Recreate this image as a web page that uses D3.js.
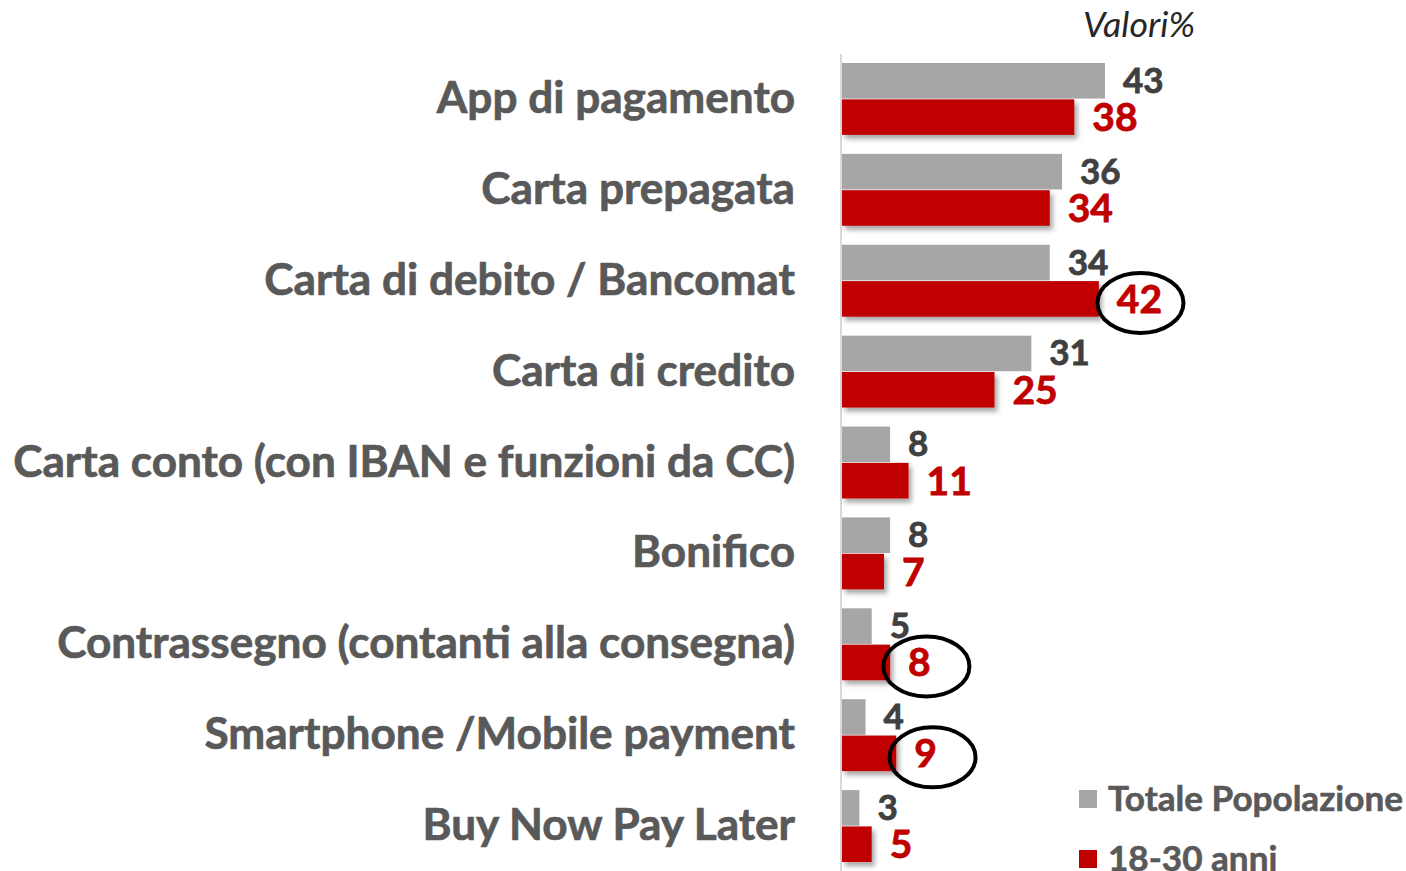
<!DOCTYPE html>
<html>
<head>
<meta charset="utf-8">
<script src="https://cdn.jsdelivr.net/npm/d3@7"></script>
<style>
  body { margin: 0; background: #fff; }
  text { font-family: Lato, "Open Sans", sans-serif; }
</style>
</head>
<body>
<div id="chart"></div>
<script>
// data
var categories = [
  "App di pagamento",
  "Carta prepagata",
  "Carta di debito / Bancomat",
  "Carta di credito",
  "Carta conto (con IBAN e funzioni da CC)",
  "Bonifico",
  "Contrassegno (contanti alla consegna)",
  "Smartphone /Mobile payment",
  "Buy Now Pay Later"
];
var totale = [43, 36, 34, 31, 8, 8, 5, 4, 3];
var giovani = [38, 34, 42, 25, 11, 7, 8, 9, 5];
var highlighted = [2, 6, 7]; // rows where the 18-30 value is circled
var seriesNames = ["Totale Popolazione", "18-30 anni"];
var colors = ["#a6a6a6", "#c00000"];

var width = 1406, height = 871;

var svg = d3.select("#chart").append("svg")
    .attr("width", width)
    .attr("height", height);

// drop shadow under the red bars
var defs = svg.append("defs");
defs.append("filter")
    .attr("id", "shadow")
    .attr("x", "-10%").attr("y", "-20%")
    .attr("width", "130%").attr("height", "160%")
  .append("feDropShadow")
    .attr("dx", 3).attr("dy", 4)
    .attr("stdDeviation", 2.5)
    .attr("flood-color", "#000")
    .attr("flood-opacity", 0.35);

// shrink or grow a text selection until its widest item has the target width
function fitWidth(sel, base, target) {
  sel.attr("font-size", base);
  var w = d3.max(sel.nodes(), n => n.getComputedTextLength());
  sel.attr("font-size", base * target / w);
}

var x0 = 841;
var x = d3.scaleLinear().domain([0, 43]).range([x0, 1105]);

var y = d3.scaleBand()
    .domain(categories)
    .range([53, 53 + 91 * categories.length])
    .paddingInner(19 / 91)
    .paddingOuter(10 / 91);

var ySub = d3.scaleBand().domain([0, 1]).range([0, y.bandwidth()]).paddingInner(0.02);

// axis line
svg.append("line")
    .attr("x1", x0).attr("x2", x0)
    .attr("y1", 54).attr("y2", height)
    .attr("stroke", "#d9d9d9")
    .attr("stroke-width", 2);

// "Valori%"
var valori = svg.append("text")
    .attr("x", 1195).attr("y", 37)
    .attr("text-anchor", "end")
    .attr("font-style", "italic")
    .attr("fill", "#262626")
    .text("Valori%");
fitWidth(valori, 30, 112);

// category labels, fitted to the width of the original
var catLabels = svg.append("g").selectAll("text")
    .data(categories)
    .join("text")
      .attr("x", 795)
      .attr("y", d => y(d) + y.bandwidth() / 2 + 14)
      .attr("text-anchor", "end")
      .attr("font-weight", 700)
      .attr("fill", "#595959")
      .attr("stroke", "#595959")
      .attr("stroke-width", 0.7)
      .text(d => d);
fitWidth(catLabels, 40, 782);

var series = [totale, giovani];

series.forEach(function(vals, s) {
  var g = svg.append("g");
  g.selectAll("rect")
    .data(vals)
    .join("rect")
      .attr("x", x0 + 1)
      .attr("y", (d, i) => y(categories[i]) + ySub(s))
      .attr("width", d => x(d) - x0 - 1)
      .attr("height", ySub.bandwidth())
      .attr("fill", colors[s])
      .attr("filter", s === 1 ? "url(#shadow)" : null);
});

// value labels
var labelsG = svg.append("g");
var redLabels = [];
series.forEach(function(vals, s) {
  var fill = s === 0 ? "#404040" : colors[1];
  var t = labelsG.selectAll("text.s" + s)
    .data(vals)
    .join("text")
      .attr("class", "s" + s)
      .attr("x", d => x(d) + 18)
      .attr("y", (d, i) => y(categories[i]) + ySub(s) + ySub.bandwidth() / 2 + (s === 0 ? 12 : 14))
      .attr("font-weight", 700)
      .attr("font-size", s === 0 ? 35 : 39)
      .attr("fill", fill)
      .attr("stroke", fill)
      .attr("stroke-width", 0.8)
      .text(d => d);
  if (s === 1) redLabels = t.nodes();
});

// ellipses around the highlighted 18-30 values
highlighted.forEach(function(i) {
  var b = redLabels[i].getBBox();
  var single = b.width < 30;
  var cx = b.x + b.width / 2 + (single ? 7 : 1);
  var cy = y(categories[i]) + ySub(1) + ySub.bandwidth() / 2 + 4;
  svg.append("ellipse")
    .attr("cx", cx)
    .attr("cy", cy)
    .attr("rx", 43)
    .attr("ry", 30)
    .attr("fill", "none")
    .attr("stroke", "#000")
    .attr("stroke-width", 4);
});

// legend
var legend = svg.append("g").selectAll("g")
    .data(seriesNames)
    .join("g")
      .attr("transform", (d, i) => "translate(1079," + (790 + i * 60) + ")");
legend.append("rect")
    .attr("width", 18).attr("height", 18)
    .attr("fill", (d, i) => colors[i]);
var legendText = legend.append("text")
    .attr("x", 29).attr("y", 21)
    .attr("font-weight", 700)
    .attr("fill", "#595959")
    .attr("stroke", "#595959")
    .attr("stroke-width", 0.6)
    .text(d => d);
fitWidth(legendText, 31, 295);
</script>
</body>
</html>
